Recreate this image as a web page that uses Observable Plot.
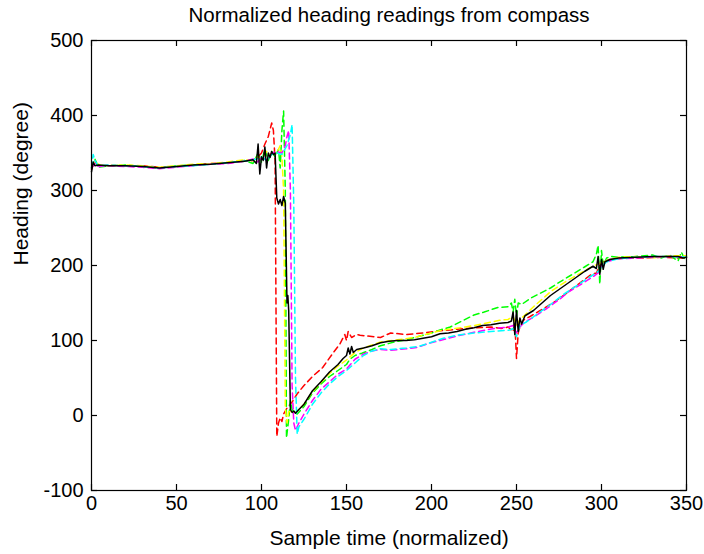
<!DOCTYPE html>
<html>
<head>
<meta charset="utf-8">
<script src="https://cdn.jsdelivr.net/npm/d3@7"></script>
<script src="https://cdn.jsdelivr.net/npm/@observablehq/plot@0.6"></script>
<style>
  html, body { margin: 0; padding: 0; background: #fff; }
  #chart { width: 704px; height: 554px; }
</style>
</head>
<body>
<div id="chart"></div>
<script>
// Axis ticks
const xTicks = [0, 50, 100, 150, 200, 250, 300, 350];
const yTicks = [-100, 0, 100, 200, 300, 400, 500];

// Heading readings, [sample time, heading in degrees], one array per compass run
const blackRun = [
  [0,325],[1,338],[2,333],[4,334],[10,333],[20,333],[30,332],[40,330],[50,332],[60,334],[70,335],[80,337],[90,339],
  [95,341],[97,336],[98,362],[99,322],[100,345],[101,340],[102,358],[103,330],[104,350],[105,344],[106,352],[107,348],
  [108,350],[109,290],[110,282],[111,288],[112,280],[113,292],[114,283],[115,150],[115.5,160],[116,140],[117,8],
  [118,4],[119,6],[120,3],[122,8],[125,15],[130,33],[135,45],[140,58],[145,68],[148,76],[150,80],[151,90],[152,82],
  [153,92],[154,84],[156,88],[160,90],[165,93],[170,97],[175,99],[180,100],[185,100],[190,101],[195,103],[200,105],
  [205,109],[210,110],[215,112],[220,115],[225,117],[230,120],[235,121],[240,123],[245,124],[247,126],[248,138],
  [249,108],[250,140],[251,112],[252,130],[253,122],[255,133],[260,140],[265,150],[270,160],[275,168],[280,176],
  [285,184],[290,192],[295,199],[297,196],[298,212],[299,188],[300,208],[301,195],[302,205],[305,208],[310,210],
  [320,211],[330,212],[340,212],[345,212],[348,210],[350,211]
];
const redRun = [
  [0,328],[2,340],[4,332],[10,334],[20,333],[30,333],[40,331],[50,332],[60,334],[70,336],[80,337],[90,339],[95,340],
  [98,345],[100,350],[102,362],[104,372],[106,390],[107,380],[108,340],[109,-28],[110,-10],[111,-3],[112,-8],[113,2],
  [115,10],[118,18],[121,29],[125,40],[130,52],[136,64],[142,83],[146,95],[149,108],[150,100],[151,112],[153,104],
  [156,108],[158,107],[162,106],[170,104],[176,110],[185,108],[195,110],[205,113],[215,115],[225,117],[235,118],
  [241,116],[245,118],[248,112],[249,125],[250,76],[251,110],[252,118],[254,127],[258,132],[264,140],[272,151],
  [280,164],[288,178],[294,188],[297,190],[299,200],[301,205],[305,208],[315,210],[325,210],[335,211],[345,210],[350,210]
];
const greenRun = [
  [0,330],[2,342],[4,331],[10,333],[20,334],[30,332],[40,330],[50,333],[60,334],[70,335],[80,337],[90,340],[95,336],
  [98,350],[100,338],[102,355],[104,340],[106,352],[108,345],[110,355],[111,330],[112,380],[113,406],[114,300],
  [114.7,-30],[116,-5],[117,20],[118,8],[119,5],[121,2],[125,12],[130,30],[135,42],[140,52],[145,60],[150,68],
  [152,75],[155,80],[159,83],[165,88],[170,93],[178,98],[185,101],[190,104],[195,107],[200,110],[205,114],[211,118],
  [218,126],[225,134],[231,138],[239,144],[245,145],[247,150],[248,138],[249,155],[250,132],[251,150],[253,148],
  [258,156],[264,163],[270,170],[274,176],[282,187],[290,198],[295,205],[297,215],[298,227],[299,175],[300,220],
  [301,200],[303,210],[306,212],[310,211],[320,212],[330,214],[335,210],[340,214],[345,206],[347,218],[349,208],[350,212]
];
const yellowRun = [
  [0,330],[2,338],[5,334],[10,333],[20,334],[30,333],[40,331],[50,333],[60,335],[70,336],[80,338],[90,341],[95,340],
  [98,345],[100,342],[103,352],[106,348],[109,350],[111,360],[112,345],[113,300],[114,10],[115,-10],[116,5],[118,6],
  [120,4],[125,15],[130,32],[135,44],[140,56],[145,66],[150,74],[155,84],[160,90],[165,94],[170,98],[180,101],
  [190,104],[200,110],[205,113],[210,115],[220,118],[230,122],[240,127],[245,128],[248,132],[250,120],[252,128],
  [255,134],[260,145],[265,155],[270,165],[280,180],[290,193],[296,200],[300,204],[305,208],[310,211],[320,212],
  [330,210],[340,213],[350,213]
];
const magentaRun = [
  [0,330],[2,336],[4,332],[10,333],[20,332],[30,331],[40,329],[50,331],[60,333],[70,335],[80,336],[90,339],[95,342],
  [98,338],[100,345],[103,340],[106,350],[109,352],[112,350],[114,360],[115,372],[116,380],[117,300],[118,40],
  [119,-10],[120,-20],[122,-10],[125,2],[130,20],[135,35],[140,45],[145,55],[150,62],[155,75],[160,82],[165,86],
  [170,88],[176,87],[185,89],[192,91],[198,96],[205,100],[215,106],[225,111],[237,116],[245,118],[248,120],[250,110],
  [252,118],[255,125],[260,131],[268,143],[276,156],[280,164],[288,175],[295,185],[298,190],[300,200],[303,205],
  [310,209],[320,210],[330,211],[340,212],[350,211]
];
const cyanRun = [
  [0,330],[1,348],[2,340],[4,333],[10,334],[20,333],[30,332],[40,330],[50,332],[60,333],[70,335],[80,337],[90,339],
  [95,341],[98,343],[100,345],[103,340],[106,348],[109,350],[112,348],[115,360],[117,375],[118,388],[119,280],
  [120,50],[121,-25],[122,-15],[125,-5],[130,15],[135,30],[140,42],[145,52],[150,60],[155,70],[160,80],[165,86],
  [170,89],[176,88],[185,90],[192,92],[198,96],[207,103],[215,107],[225,110],[235,112],[246,114],[248,116],[250,105],
  [252,120],[256,125],[262,135],[270,148],[278,162],[286,174],[294,186],[298,192],[300,198],[303,205],[310,209],
  [320,211],[330,212],[340,212],[350,211]
];

const dashed = {strokeWidth: 1.5, strokeDasharray: "6,4"};
const mTop = 40, mBottom = 64, mLeft = 91, mRight = 18;
const frameH = 554 - mTop - mBottom;
const frameW = 704 - mLeft - mRight;
const tick = 6;
// plain hyphen for negative tick labels
const fmt = d => String(d);

const chart = Plot.plot({
  width: 704,
  height: 554,
  marginTop: mTop,
  marginRight: mRight,
  marginBottom: mBottom,
  marginLeft: mLeft,
  x: {domain: [0, 350]},
  y: {domain: [-100, 500]},
  style: {fontFamily: "'Liberation Sans', Arial, sans-serif", color: "#000", background: "#fff"},
  marks: [
    Plot.line(redRun, {x: "0", y: "1", stroke: "#ff0000", ...dashed}),
    Plot.line(greenRun, {x: "0", y: "1", stroke: "#00ff00", ...dashed}),
    Plot.line(yellowRun, {x: "0", y: "1", stroke: "#ffff00", ...dashed}),
    Plot.line(magentaRun, {x: "0", y: "1", stroke: "#ff00ff", ...dashed}),
    Plot.line(cyanRun, {x: "0", y: "1", stroke: "#00ffff", ...dashed}),
    Plot.line(blackRun, {x: "0", y: "1", stroke: "#000", strokeWidth: 1.5}),
    Plot.frame({stroke: "#000", strokeWidth: 1.2}),
    // inward ticks on all four sides
    Plot.tickX(xTicks, {x: d => d, insetTop: frameH - tick, stroke: "#000", strokeWidth: 1.2}),
    Plot.tickX(xTicks, {x: d => d, insetBottom: frameH - tick, stroke: "#000", strokeWidth: 1.2}),
    Plot.tickY(yTicks, {y: d => d, insetRight: frameW - tick, stroke: "#000", strokeWidth: 1.2}),
    Plot.tickY(yTicks, {y: d => d, insetLeft: frameW - tick, stroke: "#000", strokeWidth: 1.2}),
    Plot.axisX(xTicks, {tickSize: 0, tickPadding: 5, fontSize: 20, tickFormat: fmt, label: null}),
    Plot.axisY(yTicks, {tickSize: 0, tickPadding: 8, fontSize: 20, tickFormat: fmt, label: null}),
    Plot.text(["Normalized heading readings from compass"], {frameAnchor: "top", lineAnchor: "bottom", dy: -19, fontSize: 20.5}),
    Plot.text(["Sample time (normalized)"], {frameAnchor: "bottom", lineAnchor: "bottom", dy: 54, fontSize: 21}),
    Plot.text(["Heading (degree)"], {frameAnchor: "left", dx: -70, rotate: -90, fontSize: 21})
  ]
});

document.getElementById("chart").append(chart);
</script>
</body>
</html>
